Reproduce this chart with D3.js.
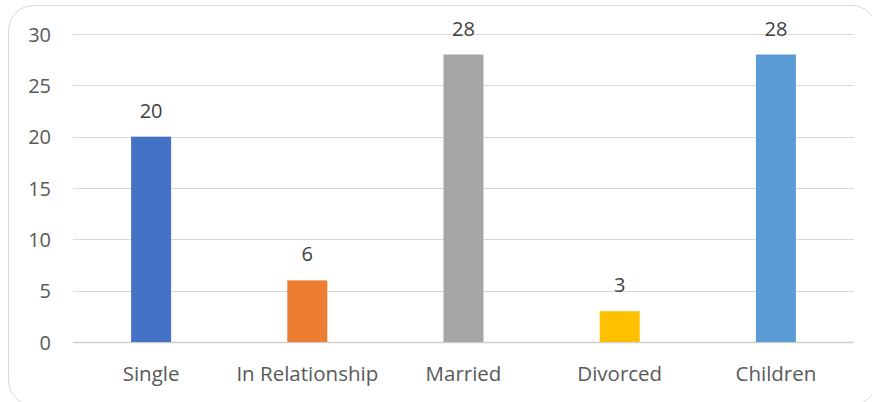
<!DOCTYPE html>
<html>
<head>
<meta charset="utf-8">
<script src="https://cdn.jsdelivr.net/npm/d3@7"></script>
<style>
  body { margin: 0; background: #fff; }
  svg { display: block; font-family: "Open Sans", "Noto Sans", sans-serif; }
</style>
</head>
<body>
<div id="chart"></div>
<script>
var categories = ["Single", "In Relationship", "Married", "Divorced", "Children"];
var values = [20, 6, 28, 3, 28];
var colors = ["#4472C4", "#ED7D31", "#A5A5A5", "#FFC000", "#5B9BD5"];
var yTicks = [0, 5, 10, 15, 20, 25, 30];

var width = 872, height = 402;
var plotLeft = 73, plotRight = 854, plotTop = 34, plotBottom = 342;
var fontFamily = "'Open Sans', 'Noto Sans', sans-serif";
var fontSize = "20px";

var svg = d3.select("#chart").append("svg")
  .attr("width", width)
  .attr("height", height);

// chart frame (runs a little past the right and bottom edges)
svg.append("rect")
  .attr("x", 8.5).attr("y", 5.5)
  .attr("width", 868).attr("height", 400)
  .attr("rx", 25).attr("ry", 25)
  .attr("fill", "none")
  .attr("stroke", "#d9d9d9")
  .attr("stroke-width", 1);

var x = d3.scaleBand().domain(categories).range([plotLeft, plotRight]);
var y = d3.scaleLinear().domain([0, 30]).range([plotBottom, plotTop]);
var barWidth = 40;

// gridlines
svg.append("g")
  .selectAll("line")
  .data(yTicks)
  .enter().append("line")
    .attr("x1", plotLeft).attr("x2", plotRight)
    .attr("y1", function(d){ return Math.round(y(d)) + 0.5; })
    .attr("y2", function(d){ return Math.round(y(d)) + 0.5; })
    .attr("stroke", function(d){ return d === 0 ? "#d0d0d0" : "#d9d9d9"; })
    .attr("stroke-width", function(d){ return d === 0 ? 1.5 : 1; });

// y axis labels
var yAxis = svg.append("g")
  .attr("transform", "translate(51,0)")
  .call(d3.axisLeft(y).tickValues(yTicks).tickSize(0).tickPadding(0));
yAxis.select(".domain").remove();
yAxis.selectAll("text")
  .attr("fill", "#595959")
  .attr("dy", "0.35em")
  .style("font-size", fontSize)
  .style("font-family", fontFamily);

// bars
svg.append("g")
  .selectAll("rect")
  .data(values)
  .enter().append("rect")
    .attr("x", function(d, i){ return x(categories[i]) + x.bandwidth()/2 - barWidth/2; })
    .attr("y", function(d){ return y(d); })
    .attr("width", barWidth)
    .attr("height", function(d){ return y(0) - y(d); })
    .attr("fill", function(d, i){ return colors[i]; });

// value labels
svg.append("g")
  .selectAll("text")
  .data(values)
  .enter().append("text")
    .attr("x", function(d, i){ return x(categories[i]) + x.bandwidth()/2; })
    .attr("y", function(d){ return y(d) - 26; })
    .attr("dy", "0.35em")
    .attr("text-anchor", "middle")
    .attr("fill", "#404040")
    .style("font-size", fontSize)
    .style("font-family", fontFamily)
    .text(function(d){ return d; });

// x axis labels
var xAxis = svg.append("g")
  .attr("transform", "translate(0,381)")
  .call(d3.axisBottom(x).tickSize(0).tickPadding(0));
xAxis.select(".domain").remove();
xAxis.selectAll("text")
  .attr("fill", "#595959")
  .attr("y", 0)
  .attr("dy", 0)
  .style("font-size", "20.5px")
  .style("font-family", fontFamily);
</script>
</body>
</html>
